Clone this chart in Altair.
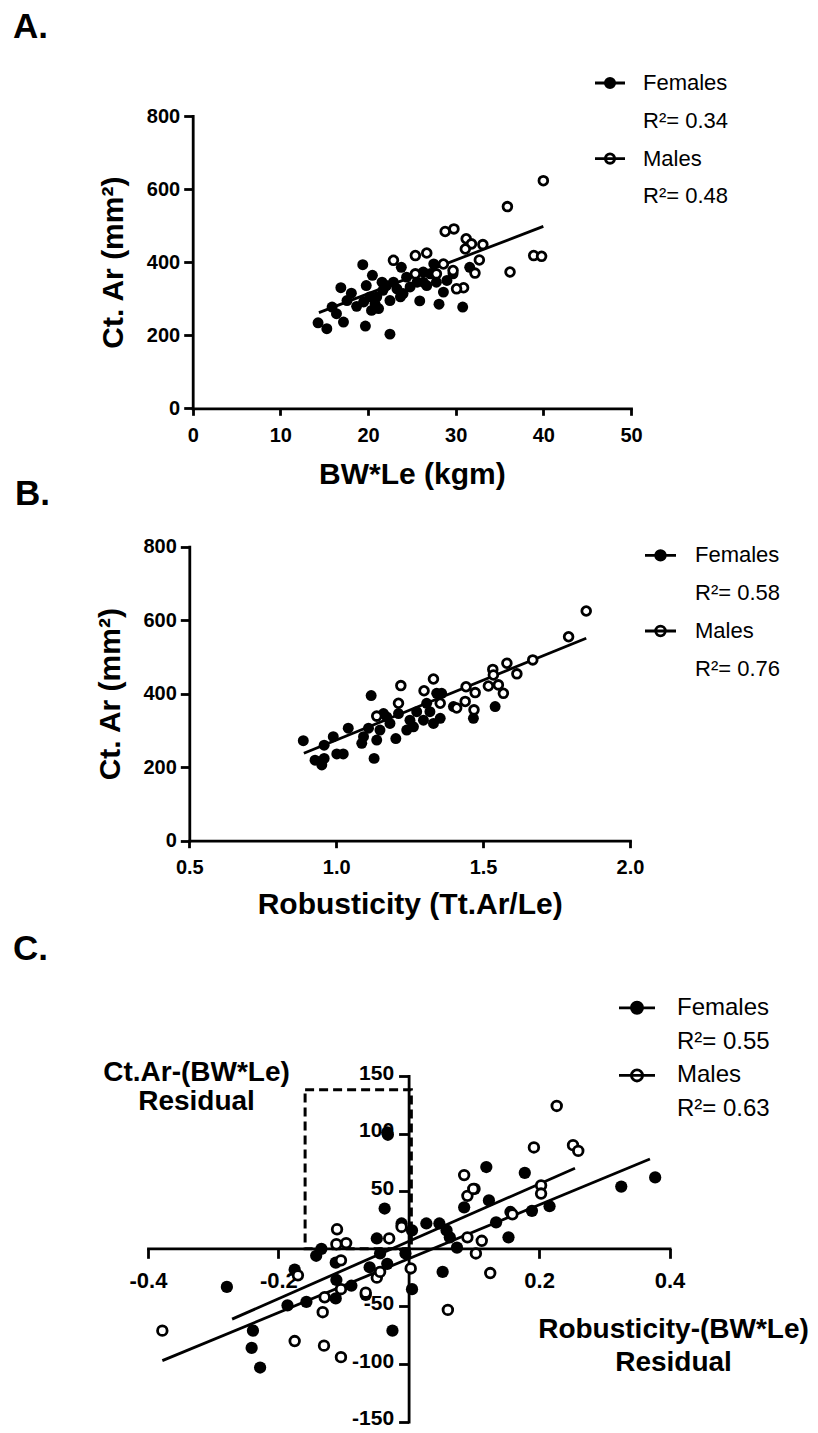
import altair as alt
import pandas as pd

W, H = 802, 1417
FONT = "Liberation Sans"


def px(v):  # page x -> plot x
    return v - 8


def py(v):  # page y -> plot y
    return v - 8


# ---------------- Panel A data ----------------
a_fem_x = [14.3, 15.3, 17.2, 19.7, 22.5, 15.9, 16.4, 16.9, 18.1, 17.6, 18.7, 19.4, 20.5, 19.8, 20.2,
           21.2, 20.8, 21.7, 22.5, 22.9, 23.8, 24.0, 24.8, 25.9, 26.3, 27.1, 27.5, 28.1, 28.6, 30.8,
           29.0, 24.4, 22.1, 23.3, 25.6, 26.7, 27.8, 21.0, 21.6, 19.5, 20.4, 23.7, 29.7, 31.6, 26.3]
a_fem_y = [234, 218, 236, 225, 203, 277, 259, 330, 315, 295, 279, 393, 364, 336, 305,
           273, 286, 323, 295, 345, 386, 314, 332, 294, 345, 368, 395, 285, 318, 277,
           350, 359, 336, 327, 345, 336, 345, 305, 345, 291, 268, 305, 368, 386, 373]
a_mal_x = [40.0, 35.9, 28.8, 29.8, 31.2, 31.8, 33.1, 31.1, 26.7, 25.4, 22.9, 32.7, 38.9, 39.8,
           36.2, 32.2, 30.9, 29.7, 28.6, 27.8, 25.4, 30.1]
a_mal_y = [623, 552, 484, 491, 464, 450, 448, 436, 425, 418, 405, 406, 418, 416,
           373, 370, 330, 377, 395, 368, 368, 327]
a_fit_x = [14.4, 40.0]
a_fit_y = [262, 498]
a_legend = ["Females", "R²= 0.34", "Males", "R²= 0.48"]

# ---------------- Panel B data ----------------
b_fem_x = [0.888, 0.928, 0.951, 0.959, 0.959, 0.990, 1.002, 1.024, 1.041, 1.087, 1.093, 1.110, 1.119,
           1.129, 1.138, 1.149, 1.172, 1.183, 1.203, 1.212, 1.240, 1.251, 1.274, 1.297, 1.308, 1.331,
           1.354, 1.342, 1.359, 1.399, 1.467, 1.541, 1.319, 1.263, 1.161]
b_fem_y = [272, 219, 206, 224, 260, 283, 236, 236, 306, 265, 283, 306, 395,
           224, 274, 301, 337, 319, 278, 346, 301, 328, 351, 328, 374, 319,
           333, 401, 401, 365, 333, 365, 351, 310, 346]
b_mal_x = [1.851, 1.791, 1.669, 1.581, 1.615, 1.533, 1.535, 1.518, 1.552, 1.569, 1.442, 1.473, 1.469,
           1.331, 1.299, 1.220, 1.212, 1.138, 1.410, 1.354, 1.439]
b_mal_y = [625, 555, 492, 483, 454, 466, 451, 421, 424, 401, 419, 403, 356,
           440, 408, 422, 374, 339, 361, 374, 379]
b_fit_x = [0.890, 1.851]
b_fit_y = [238, 551]
b_legend = ["Females", "R²= 0.58", "Males", "R²= 0.76"]

# ---------------- Panel C data ----------------
c_fem_x = [-0.279, -0.239, -0.241, -0.228, -0.186, -0.157, -0.175, -0.142, -0.134, -0.112, -0.111, -0.112,
           -0.088, -0.066, -0.060, -0.049, -0.044, -0.037, -0.033, -0.032, -0.025, -0.033, -0.011, 0.005,
           0.005, -0.005, 0.027, 0.047, 0.052, 0.058, 0.063, 0.074, 0.085, 0.101, 0.119, 0.123, 0.134,
           0.153, 0.156, 0.178, 0.189, 0.216, 0.326, 0.378]
c_fem_y = [-33, -71, -86, -103, -49, -46, -18, -6, 0, -12, -27, -43,
           -32, -40, -16, 9, -4, 35, 101, 99, -71, -13, 22, 16,
           -35, -4, 22, 22, -20, 16, 10, 1, 36, 52, 71, 42, 23,
           10, 32, 66, 33, 37, 54, 62]
c_mal_x = [-0.378, -0.175, -0.130, -0.104, -0.132, -0.129, -0.104, -0.110, -0.111, -0.096, -0.104, -0.170,
           -0.066, -0.049, -0.044, -0.030, -0.011, 0.003, 0.060, 0.085, 0.090, 0.099, 0.090, 0.103,
           0.112, 0.125, 0.159, 0.192, 0.203, 0.203, 0.227, 0.252, 0.260]
c_mal_y = [-71, -80, -84, -94, -55, -42, -35, 17, 4, 5, -10, -23,
           -38, -25, -20, 9, 19, -17, -53, 64, 46, 52, 10, -4,
           7, -21, 30, 88, 55, 48, 124, 90, 85]
c_fit_grp = ["long", "long", "short", "short"]
c_fit_x = [-0.378, 0.370, -0.271, 0.255]
c_fit_y = [-97, 78, -61, 70]
c_box_x = [-0.159]
c_box_x2 = [0.004]
c_box_y = [0]
c_box_y2 = [138]
c_legend = ["Females", "R²= 0.55", "Males", "R²= 0.63"]

SYM = "M-1,0H1M0.31,0A0.31,0.31,0,1,1,-0.31,0A0.31,0.31,0,1,1,0.31,0Z"
LW = 2.8


def axis(**kw):
    base = dict(domainColor="black", domainWidth=LW, tickColor="black", tickWidth=LW, grid=False,
                labelFont=FONT, labelFontWeight="bold", labelColor="black", labelFlush=False,
                labelOverlap=False, titleFont=FONT, titleFontWeight="bold", titleColor="black",
                domainCap="square")
    base.update(kw)
    return alt.Axis(**base)


def panel(fx, fy, mx, my, fit, X, Y, leg, legpos, fsize, osize, extra=None):
    fem = alt.Chart(pd.DataFrame({"x": fx, "y": fy})).mark_circle(
        size=fsize, color="black", opacity=1).encode(x=X, y=Y)
    mal = alt.Chart(pd.DataFrame({"x": mx, "y": my})).mark_point(
        shape="circle", filled=True, size=osize, fill="white", stroke="black",
        strokeWidth=LW, opacity=1).encode(x=X, y=Y)
    line = alt.Chart(fit).mark_line(color="black", strokeWidth=LW).encode(
        x=X, y=Y, detail="g:N")
    lx, ly, ssize, lfs, loff, rowpad = legpos
    lg = alt.Legend(orient="none", legendX=lx, legendY=ly, title=None, symbolType=SYM,
                    symbolSize=ssize, symbolStrokeWidth=LW, symbolOpacity=1, labelFont=FONT,
                    labelFontSize=lfs, labelColor="black", labelOffset=loff, clipHeight=26,
                    rowPadding=rowpad, padding=0, labelLimit=300)
    legd = alt.Chart(pd.DataFrame({"leg": leg})).mark_point(shape=SYM, filled=True, opacity=1).encode(
        fill=alt.Fill("leg:N", scale=alt.Scale(domain=leg, range=["black", "transparent", "white", "transparent"]), legend=lg),
        stroke=alt.Stroke("leg:N", scale=alt.Scale(domain=leg, range=["black", "transparent", "black", "transparent"]), legend=lg),
    ).transform_filter("false")
    layers = []
    if extra is not None:
        layers.append(extra)
    layers += [line, fem, mal, legd]
    return alt.layer(*layers)


# ---- Panel A ----
XA = alt.X("x:Q", scale=alt.Scale(domain=[0, 50], range=[px(192.7), px(631)], nice=False, zero=False),
           axis=axis(orient="bottom", offset=py(408.3) - H, values=[0, 10, 20, 30, 40, 50], format="d",
                     tickSize=7, labelFontSize=20, labelBaseline="alphabetic", labelPadding=26,
                     title="BW*Le (kgm)", titleFontSize=30, titleBaseline="alphabetic", titleY=75))
YA = alt.Y("y:Q", scale=alt.Scale(domain=[0, 800], range=[py(408.3), py(116)], nice=False, zero=False),
           axis=axis(orient="left", offset=-px(192.7), values=[0, 200, 400, 600, 800], format="d",
                     tickSize=9, labelFontSize=20, labelPadding=4,
                     title="Ct. Ar (mm²)", titleFontSize=30, titleBaseline="alphabetic",
                     titleAngle=270, titleX=-70))
fitA = pd.DataFrame({"x": a_fit_x, "y": a_fit_y, "g": ["a", "a"]})
pA = panel(a_fem_x, a_fem_y, a_mal_x, a_mal_y, fitA, XA, YA, a_legend,
           (px(593.5), py(83) - 13, 900, 22, 16.5, 11.8), 120, 76)

# ---- Panel B ----
XB = alt.X("x:Q", scale=alt.Scale(domain=[0.5, 2.0], range=[px(189.3), px(630)], nice=False, zero=False),
           axis=axis(orient="bottom", offset=py(840.7) - H, values=[0.5, 1.0, 1.5, 2.0], format=".1f",
                     tickSize=7, labelFontSize=20, labelBaseline="alphabetic", labelPadding=26,
                     title="Robusticity (Tt.Ar/Le)", titleFontSize=30, titleBaseline="alphabetic",
                     titleY=72.5))
YB = alt.Y("y:Q", scale=alt.Scale(domain=[0, 800], range=[py(840.7), py(546.7)], nice=False, zero=False),
           axis=axis(orient="left", offset=-px(189.3), values=[0, 200, 400, 600, 800], format="d",
                     tickSize=9, labelFontSize=20, labelPadding=4,
                     title="Ct. Ar (mm²)", titleFontSize=30, titleBaseline="alphabetic",
                     titleAngle=270, titleX=-70))
fitB = pd.DataFrame({"x": b_fit_x, "y": b_fit_y, "g": ["b", "b"]})
pB = panel(b_fem_x, b_fem_y, b_mal_x, b_mal_y, fitB, XB, YB, b_legend,
           (px(643.5), py(555.4) - 13, 961, 22, 17.5, 11.8), 120, 76)

# ---- Panel C ----
LBL = "datum.value == 0 ? '' : replace(datum.label, '\\u2212', '-')"
XC = alt.X("x:Q", scale=alt.Scale(domain=[-0.4, 0.4], range=[px(148), px(669.5)], nice=False, zero=False),
           axis=axis(orient="bottom", offset=py(1248.3) - H, values=[-0.4, -0.2, 0, 0.2, 0.4], format=".1f",
                     labelExpr=LBL, tickSize=10, labelFontSize=22, labelBaseline="alphabetic",
                     labelPadding=29, title=["Robusticity-(BW*Le)", "Residual"], titleFontSize=28,
                     titleBaseline="alphabetic", titleAlign="center", titleX=px(673),
                     titleY=1337 - 1248.3, titleLineHeight=33))
YC = alt.Y("y:Q", scale=alt.Scale(domain=[-150, 150], range=[py(1421.7), py(1076)], nice=False, zero=False),
           axis=axis(orient="left", offset=-px(408.6), values=[-150, -100, -50, 0, 50, 100, 150], format="d",
                     labelExpr=LBL, tickSize=10, labelFontSize=21, labelPadding=5, labelOffset=-3,
                     title=["Ct.Ar-(BW*Le)", "Residual"], titleFontSize=28, titleAngle=0,
                     titleBaseline="alphabetic", titleAlign="center", titleX=196 - 408.6,
                     titleY=py(1080), titleLineHeight=29))
fitC = pd.DataFrame({"x": c_fit_x, "y": c_fit_y, "g": c_fit_grp})
box = alt.Chart(pd.DataFrame({"x": c_box_x, "x2": c_box_x2, "y": c_box_y, "y2": c_box_y2})).mark_rect(
    fill=None, fillOpacity=0, stroke="black", strokeWidth=3, strokeDash=[9, 5]).encode(
    x=XC, x2="x2:Q", y=YC, y2="y2:Q")
pC = panel(c_fem_x, c_fem_y, c_mal_x, c_mal_y, fitC, XC, YC, c_legend,
           (px(617.5), py(1007.8) - 13, 1296, 24, 20.5, 7.8), 150, 92, extra=box)


def tag(t, x, y):
    return alt.Chart(pd.DataFrame({"t": [t]})).mark_text(
        font=FONT, fontSize=35, fontWeight="bold", color="black", align="left",
        baseline="alphabetic").encode(x=alt.value(x), y=alt.value(y), text="t:N")


chart = alt.layer(
    pA, pB, pC,
    tag("A.", px(13), py(38)), tag("B.", px(15), py(505)), tag("C.", px(13), py(960))
).resolve_scale(
    x="independent", y="independent", fill="independent", stroke="independent"
).resolve_axis(x="independent", y="independent").resolve_legend(
    fill="independent", stroke="independent"
).properties(width=W, height=H, padding=0, autosize=alt.AutoSizeParams(type="none")
).configure_view(stroke=None)

chart.save("out.html", embed_options={"renderer": "svg", "actions": False})
